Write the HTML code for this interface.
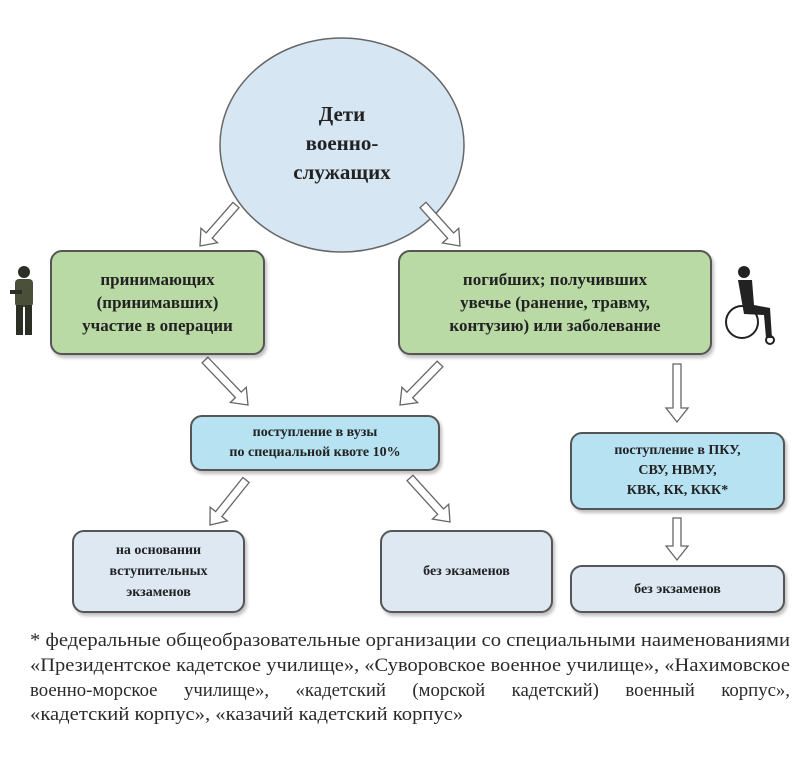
<!DOCTYPE html>
<html><head><meta charset="utf-8">
<style>
body{margin:0;width:800px;height:781px;background:#fff;position:relative;overflow:hidden;font-family:"Liberation Serif","Noto Serif CJK SC",serif;color:#222}
.b{position:absolute;box-sizing:border-box;border:2px solid #555;border-radius:12px;display:flex;align-items:center;justify-content:center;text-align:center;font-weight:bold;box-shadow:2px 3px 3px rgba(0,0,0,.25)}
.g{background:#b9d9a5;font-size:17px;line-height:23px}
.bl{background:#b6e2f2;font-size:14px;line-height:20px}
.lb{background:#dde8f3;font-size:14px;line-height:21px}
.fn{position:absolute;left:30px;font-size:19px;white-space:nowrap;transform-origin:0 0;color:#2a2a2a}
</style></head><body>
<svg id="s" width="800" height="781" style="position:absolute;left:0;top:0">
<ellipse cx="342" cy="145" rx="122" ry="107" fill="#d6e6f2" stroke="#666" stroke-width="1.5"/>
<g fill="#2c2f25">
<circle cx="24" cy="272" r="6"/>
<rect x="15" y="279" width="18" height="28" rx="4" fill="#4a4f3a"/>
<rect x="16" y="305" width="7" height="30"/><rect x="25" y="305" width="7" height="30"/>
<rect x="10" y="290" width="12" height="4"/>
</g>
<g fill="#222" stroke="#222">
<circle cx="744" cy="272" r="6" stroke="none"/>
<path d="M738 280 L752 280 L754 305 L770 308 L772 338 L766 338 L764 315 L744 314 Z" stroke="none"/>
<circle cx="742" cy="322" r="16" fill="none" stroke-width="2"/>
<circle cx="770" cy="340" r="4" fill="none" stroke-width="2"/>
</g>
</svg>
<div style="position:absolute;left:262px;top:100px;width:160px;text-align:center;font-weight:bold;font-size:21px;line-height:29px">Дети<br>военно-<br>служащих</div>
<div class="b g" style="left:50px;top:250px;width:215px;height:105px">принимающих<br>(принимавших)<br>участие в операции</div>
<div class="b g" style="left:398px;top:250px;width:314px;height:105px">погибших; получивших<br>увечье (ранение, травму,<br>контузию) или заболевание</div>
<div class="b bl" style="left:190px;top:415px;width:250px;height:56px">поступление в вузы<br>по специальной квоте 10%</div>
<div class="b bl" style="left:570px;top:432px;width:215px;height:78px">поступление в ПКУ,<br>СВУ, НВМУ,<br>КВК, КК, ККК*</div>
<div class="b lb" style="left:72px;top:530px;width:173px;height:83px">на основании<br>вступительных<br>экзаменов</div>
<div class="b lb" style="left:380px;top:530px;width:173px;height:83px">без экзаменов</div>
<div class="b lb" style="left:570px;top:565px;width:215px;height:48px">без экзаменов</div>
<div class="fn" data-w="760" style="top:630px">* федеральные общеобразовательные организации со специальными наименованиями</div>
<div class="fn" data-w="760" style="top:655px">«Президентское кадетское училище», «Суворовское военное училище», «Нахимовское</div>
<div class="fn" data-w="760" style="top:680px;word-spacing:22px">военно-морское училище», «кадетский (морской кадетский) военный корпус»,</div>
<div class="fn" id="last" style="top:704px">«кадетский корпус», «казачий кадетский корпус»</div>
<script>
var s=document.getElementById('s');
function arr(x1,y1,x2,y2){var dx=x2-x1,dy=y2-y1,L=Math.hypot(dx,dy),ux=dx/L,uy=dy/L,px=-uy,py=ux,hw=4,hh=11,hl=14;
var bx=x2-ux*hl,by=y2-uy*hl;
var p=[[x1+px*hw,y1+py*hw],[bx+px*hw,by+py*hw],[bx+px*hh,by+py*hh],[x2,y2],[bx-px*hh,by-py*hh],[bx-px*hw,by-py*hw],[x1-px*hw,y1-py*hw]];
var e=document.createElementNS('http://www.w3.org/2000/svg','polygon');e.setAttribute('points',p.map(function(q){return q.join(',')}).join(' '));
e.setAttribute('fill','#fff');e.setAttribute('stroke','#666');e.setAttribute('stroke-width','1.3');s.appendChild(e);}
arr(236,205,200,246);arr(423,205,460,246);arr(205,360,248,405);arr(440,364,400,405);arr(677,364,677,422);
arr(246,480,210,525);arr(410,478,450,522);arr(677,518,677,560);
var k=1;
document.querySelectorAll('.fn[data-w]').forEach(function(d,i){var w=d.getBoundingClientRect().width;var f=760/w;if(i==0)k=f;d.style.transform='scaleX('+f+')';});
document.getElementById('last').style.transform='scaleX('+k+')';
</script>
</body></html>
